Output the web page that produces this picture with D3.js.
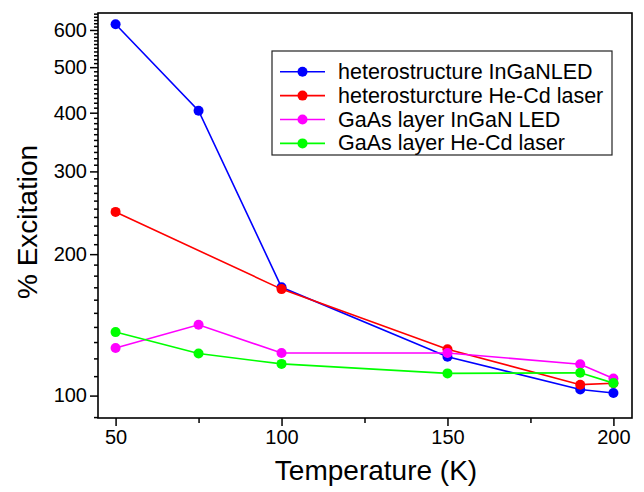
<!DOCTYPE html>
<html>
<head>
<meta charset="utf-8">
<script src="https://cdn.jsdelivr.net/npm/d3@7"></script>
<style>
  html, body { margin: 0; padding: 0; background: #fff; }
  text { font-family: "Liberation Sans", Arial, sans-serif; fill: #000; }
</style>
</head>
<body>
<svg id="chart" width="644" height="492"></svg>
<script>
// ---- data ----
const temps = [50, 75, 100, 150, 190, 200];
const tempsRed = [50, 100, 150, 190, 200];
const blueValues = [617, 404, 170, 121, 103, 101.3];
const redValues = [246, 168.5, 125.5, 105.5, 106.2];
const magentaValues = [126.3, 141.5, 123.2, 123.2, 116.6, 108.7];
const greenValues = [136.5, 122.9, 116.8, 111.5, 111.8, 106.3];
const seriesNames = ["heterostructure InGaNLED", "heterosturcture He-Cd laser", "GaAs layer InGaN LED", "GaAs layer He-Cd laser"];
const xTickValues = [50, 100, 150, 200];
const xMinorTicks = [75, 125, 175];
const yTickValues = [100, 200, 300, 400, 500, 600];

const series = [
  { name: seriesNames[0], color: "#0000ff", x: temps, y: blueValues },
  { name: seriesNames[1], color: "#ff0000", x: tempsRed, y: redValues },
  { name: seriesNames[2], color: "#ff00ff", x: temps, y: magentaValues },
  { name: seriesNames[3], color: "#00ff00", x: temps, y: greenValues }
];

// ---- layout ----
const pLeft = 98, pRight = 632, pTop = 13, pBottom = 418;
const svg = d3.select("#chart");

const x = d3.scaleLinear().domain([44.7, 205.6]).range([pLeft, pRight]);
const y = d3.scaleLog().domain([89.6, 652]).range([pBottom, pTop]);

// y minor ticks every 10
const yMinor = d3.range(90, 651, 10).filter(v => !yTickValues.includes(v));

// axes
const yAxis = d3.axisLeft(y).tickValues(yTickValues).tickFormat(d3.format("d")).tickSize(8).tickPadding(3);
const yAxisMinor = d3.axisLeft(y).tickValues(yMinor).tickFormat("").tickSize(4);
const xAxis = d3.axisBottom(x).tickValues(xTickValues).tickFormat(d3.format("d")).tickSize(8).tickPadding(4);
const xAxisMinor = d3.axisBottom(x).tickValues(xMinorTicks).tickFormat("").tickSize(5);

function styleAxis(g) {
  g.select(".domain").remove();
  g.selectAll(".tick line").attr("stroke", "#000").attr("stroke-width", 1.5);
  g.selectAll(".tick text").style("font-size", "20px").attr("fill", "#000");
}

svg.append("g").attr("transform", `translate(${pLeft},0)`).call(yAxis).call(styleAxis);
svg.append("g").attr("transform", `translate(${pLeft},0)`).call(yAxisMinor).call(styleAxis);
svg.append("g").attr("transform", `translate(0,${pBottom})`).call(xAxis).call(styleAxis);
svg.append("g").attr("transform", `translate(0,${pBottom})`).call(xAxisMinor).call(styleAxis);

// lines and markers
const line = d3.line().x(d => x(d[0])).y(d => y(d[1]));
series.forEach(s => {
  const pts = s.x.map((t, i) => [t, s.y[i]]);
  svg.append("path").datum(pts).attr("d", line)
    .attr("fill", "none").attr("stroke", s.color).attr("stroke-width", 1.6);
  svg.append("g").selectAll("circle").data(pts).join("circle")
    .attr("cx", d => x(d[0])).attr("cy", d => y(d[1])).attr("r", 5)
    .attr("fill", s.color);
});

// frame
svg.append("rect").attr("x", pLeft).attr("y", pTop)
  .attr("width", pRight - pLeft).attr("height", pBottom - pTop)
  .attr("fill", "none").attr("stroke", "#000").attr("stroke-width", 1.6);

// axis titles
svg.append("text").attr("x", 376).attr("y", 480).attr("text-anchor", "middle")
  .style("font-size", "28px").text("Temperature (K)");
svg.append("text").attr("transform", `translate(37,222) rotate(-90)`).attr("text-anchor", "middle")
  .style("font-size", "28px").text("% Excitation");

// legend
const lg = svg.append("g");
lg.append("rect").attr("x", 272).attr("y", 51).attr("width", 340).attr("height", 104)
  .attr("fill", "#fff").attr("stroke", "#222").attr("stroke-width", 1.2);
series.forEach((s, i) => {
  const cy = 71.7 + i * 23.9;
  lg.append("line").attr("x1", 280).attr("x2", 325).attr("y1", cy).attr("y2", cy)
    .attr("stroke", s.color).attr("stroke-width", 1.6);
  lg.append("circle").attr("cx", 302.5).attr("cy", cy).attr("r", 5).attr("fill", s.color);
  lg.append("text").attr("x", 338).attr("y", cy + 7).style("font-size", "21.5px").text(s.name);
});
</script>
</body>
</html>
